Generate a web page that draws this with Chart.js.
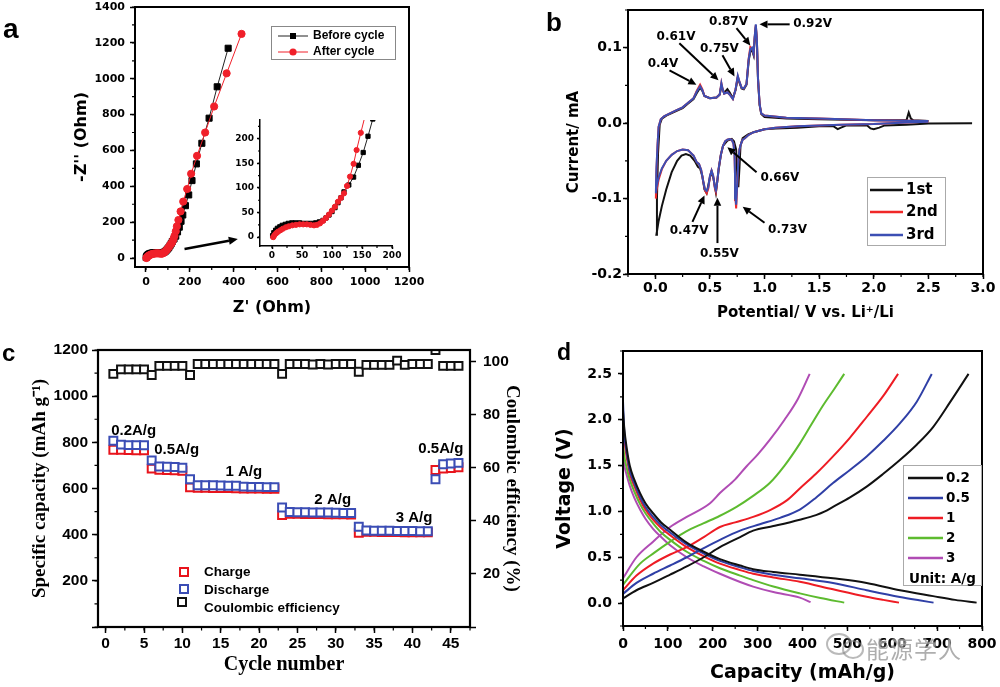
<!DOCTYPE html>
<html>
<head>
<meta charset="utf-8">
<script src="https://cdn.jsdelivr.net/npm/chart.js@4.4.1/dist/chart.umd.min.js"></script>
<style>
  html, body { margin: 0; background: #fff; }
  #page { position: relative; width: 1000px; height: 687px; overflow: hidden; background: #fff; }
  canvas { position: absolute; left: 0; top: 0; }
  .tag { position: absolute; font-family: "Liberation Sans", Arial, sans-serif; font-weight: bold; line-height: 1; color: #000; }
  .wm { position: absolute; left: 866px; top: 631px; font: 23px "Noto Sans CJK SC", sans-serif; color: rgba(120,120,120,0.6); text-shadow: 0 0 2px #fff; letter-spacing: 1px; }
  .wmi { position: absolute; border: 2px solid rgba(130,130,130,0.55); border-radius: 50%; }
</style>
</head>
<body>
<div id="page">
  <canvas id="ca" width="1000" height="687"></canvas>
  <canvas id="cai" width="1000" height="687"></canvas>
  <canvas id="cb" width="1000" height="687"></canvas>
  <canvas id="cc" width="1000" height="687"></canvas>
  <canvas id="cd" width="1000" height="687"></canvas>
  <div class="tag" style="left:3px;top:15px;font-size:28px">a</div>
  <div class="tag" style="left:546px;top:9px;font-size:26px">b</div>
  <div class="tag" style="left:2px;top:341px;font-size:24px">c</div>
  <div class="tag" style="left:557px;top:341px;font-size:23px">d</div>
  <div class="wmi" style="left:826px;top:633px;width:22px;height:18px"></div>
  <div class="wmi" style="left:842px;top:640px;width:18px;height:15px"></div>
  <div class="wm">能源学人</div>
</div>
<script>
// ---- a: impedance, before / after cycling ----
const beforeRe = [1, 3, 6, 9, 13, 17, 22, 27, 33, 39, 46, 53, 60, 67, 73, 79, 85, 90, 95, 100, 105, 110, 115, 120, 128, 136, 144, 152, 160, 168, 180, 195, 210, 230, 255, 288, 325, 375];
const beforeIm = [3, 9, 14, 18, 21, 24, 26, 28, 29, 29, 29, 28, 28, 28, 29, 31, 34, 39, 45, 52, 60, 70, 80, 92, 106, 122, 146, 172, 205, 240, 292, 352, 432, 525, 640, 780, 955, 1170];
const afterRe = [2, 4, 7, 10, 14, 18, 23, 28, 34, 40, 46, 52, 58, 64, 70, 75, 80, 85, 90, 95, 100, 105, 110, 115, 120, 125, 130, 136, 141, 148, 158, 170, 188, 206, 233, 270, 311, 368, 436];
const afterIm = [0, 4, 8, 11, 14, 17, 20, 22, 24, 25, 26, 26, 26, 25, 24, 25, 28, 33, 39, 46, 54, 62, 72, 80, 89, 104, 123, 149, 177, 212, 260, 315, 385, 470, 570, 700, 845, 1030, 1250];

// ---- b: cyclic voltammetry ----
const cv1Potential = [2.90, 2.50, 2.30, 2.10, 2.05, 2.00, 1.97, 1.94, 1.75, 1.70, 1.67, 1.63, 1.50, 1.30, 1.10, 1.00, 0.90, 0.85, 0.80, 0.78,
  0.77, 0.76, 0.75, 0.74, 0.72, 0.70, 0.66, 0.62, 0.60, 0.58, 0.555, 0.535, 0.515, 0.50, 0.47, 0.45, 0.43, 0.41, 0.39, 0.36,
  0.32, 0.28, 0.24, 0.20, 0.15, 0.10, 0.06, 0.03, 0.01,
  0.015, 0.025, 0.04, 0.06, 0.10, 0.19, 0.25, 0.30, 0.35, 0.38, 0.41, 0.43, 0.45, 0.50, 0.56, 0.59, 0.605, 0.615, 0.63, 0.66,
  0.68, 0.71, 0.735, 0.755, 0.77, 0.79, 0.81, 0.835, 0.855, 0.87, 0.885, 0.90, 0.91, 0.92, 0.93, 0.94, 0.955, 0.97, 1.00, 1.20,
  1.50, 2.00, 2.30, 2.32, 2.34, 2.36, 2.50];
const cv1Current = [0.000, -0.0005, -0.002, -0.003, -0.006, -0.008, -0.007, -0.003, -0.003, -0.006, -0.008, -0.004, -0.004, -0.006, -0.007, -0.008, -0.012, -0.015, -0.020, -0.030,
  -0.060, -0.085, -0.070, -0.035, -0.024, -0.021, -0.023, -0.030, -0.042, -0.062, -0.092, -0.075, -0.064, -0.072, -0.093, -0.088, -0.070, -0.060, -0.058, -0.050,
  -0.043, -0.041, -0.043, -0.050, -0.065, -0.088, -0.110, -0.130, -0.148,
  -0.100, -0.040, -0.002, 0.006, 0.010, 0.016, 0.020, 0.026, 0.032, 0.040, 0.047, 0.043, 0.036, 0.033, 0.034, 0.038, 0.050, 0.045, 0.040, 0.045,
  0.041, 0.033, 0.044, 0.060, 0.054, 0.046, 0.045, 0.051, 0.083, 0.095, 0.097, 0.090, 0.112, 0.128, 0.108, 0.058, 0.024, 0.012, 0.008, 0.006,
  0.005, 0.004, 0.004, 0.014, 0.006, 0.004, 0.003];
const cvPotential = [2.50, 2.30, 2.00, 1.70, 1.50, 1.30, 1.10, 1.00, 0.95, 0.90, 0.85, 0.82, 0.80, 0.785, 0.77, 0.76, 0.75, 0.74, 0.735, 0.73,
  0.725, 0.715, 0.70, 0.68, 0.66, 0.64, 0.62, 0.60, 0.58, 0.565, 0.555, 0.545, 0.53, 0.515, 0.50, 0.485, 0.47, 0.455, 0.44, 0.42,
  0.40, 0.38, 0.35, 0.30, 0.25, 0.20, 0.15, 0.10, 0.06, 0.03, 0.01, 0.005,
  0.01, 0.02, 0.03, 0.05, 0.08, 0.12, 0.19, 0.25, 0.30, 0.35, 0.38, 0.41, 0.43, 0.45, 0.50, 0.56, 0.59, 0.605, 0.615, 0.63,
  0.66, 0.68, 0.71, 0.735, 0.755, 0.77, 0.79, 0.81, 0.835, 0.855, 0.87, 0.885, 0.90, 0.91, 0.92, 0.93, 0.94, 0.955, 0.97, 1.00,
  1.20, 1.50, 2.00, 2.50];
const cv2Current = [0.002, 0.001, -0.001, -0.002, -0.003, -0.004, -0.006, -0.008, -0.010, -0.012, -0.016, -0.020, -0.022, -0.027, -0.035, -0.050, -0.082, -0.113, -0.102, -0.070,
  -0.040, -0.027, -0.022, -0.021, -0.022, -0.024, -0.030, -0.042, -0.060, -0.080, -0.091, -0.086, -0.070, -0.063, -0.071, -0.087, -0.093, -0.089, -0.078, -0.062,
  -0.054, -0.052, -0.043, -0.036, -0.035, -0.037, -0.042, -0.050, -0.061, -0.075, -0.090, -0.100,
  -0.065, -0.030, -0.005, 0.005, 0.009, 0.012, 0.017, 0.021, 0.027, 0.033, 0.043, 0.051, 0.045, 0.036, 0.033, 0.034, 0.038, 0.053, 0.046, 0.039,
  0.041, 0.038, 0.032, 0.045, 0.062, 0.055, 0.047, 0.046, 0.052, 0.086, 0.101, 0.099, 0.092, 0.114, 0.130, 0.110, 0.060, 0.025, 0.013, 0.010,
  0.007, 0.006, 0.004, 0.003];
const cv3Current = [0.002, 0.001, -0.001, -0.002, -0.003, -0.004, -0.006, -0.008, -0.010, -0.012, -0.016, -0.020, -0.022, -0.027, -0.035, -0.050, -0.080, -0.108, -0.100, -0.070,
  -0.040, -0.027, -0.022, -0.021, -0.022, -0.024, -0.030, -0.042, -0.060, -0.080, -0.089, -0.085, -0.070, -0.063, -0.070, -0.085, -0.090, -0.088, -0.078, -0.062,
  -0.054, -0.052, -0.043, -0.036, -0.035, -0.037, -0.042, -0.050, -0.060, -0.072, -0.085, -0.093,
  -0.060, -0.030, -0.005, 0.005, 0.009, 0.012, 0.017, 0.021, 0.027, 0.033, 0.042, 0.049, 0.044, 0.036, 0.033, 0.034, 0.038, 0.053, 0.046, 0.039,
  0.041, 0.038, 0.032, 0.045, 0.063, 0.055, 0.047, 0.046, 0.052, 0.085, 0.098, 0.100, 0.092, 0.115, 0.131, 0.110, 0.060, 0.025, 0.013, 0.010,
  0.007, 0.006, 0.004, 0.003];

// ---- c: rate capability ----
const cycles = [1, 2, 3, 4, 5, 6, 7, 8, 9, 10, 11, 12, 13, 14, 15, 16, 17, 18, 19, 20, 21, 22, 23,
  24, 25, 26, 27, 28, 29, 30, 31, 32, 33, 34, 35, 36, 37, 38, 39, 40, 41, 42, 43, 44, 45, 46];
const chargeCap = [768, 768, 767, 766, 765, 686, 681, 680, 679, 677, 605, 603, 603, 602, 602, 602, 601, 600, 600, 600, 599, 599, 485,
  490, 490, 489, 489, 489, 488, 488, 488, 487, 408, 412, 412, 411, 411, 411, 410, 410, 410, 410, 680, 686, 689, 692];
const dischargeCap = [807, 790, 788, 788, 787, 722, 695, 694, 693, 690, 640, 614, 614, 614, 613, 612, 612, 608, 607, 607, 606, 606, 518,
  498, 497, 497, 496, 496, 496, 495, 494, 494, 434, 418, 417, 417, 417, 416, 416, 416, 415, 415, 640, 705, 708, 711];
const coulombEff = [95.5, 97.2, 97.2, 97.2, 97.2, 95.1, 98.5, 98.5, 98.5, 98.5, 95.1, 99.2, 99.2, 99.2, 99.2, 99.2, 99.2, 99.2, 99.2, 99.2, 99.2, 99.2, 95.5,
  99.2, 99.2, 99.2, 99.0, 99.2, 99.0, 99.2, 99.2, 99.2, 96.3, 98.9, 98.9, 98.9, 98.9, 100.5, 98.9, 99.2, 99.2, 99.2, 104.5, 98.5, 98.5, 98.5];
const rateLabels = ['0.2A/g', '0.5A/g', '1 A/g', '2 A/g', '3 A/g', '0.5A/g'];

// ---- d: charge / discharge profiles ----
const rates = ['0.2', '0.5', '1', '2', '3'];
const dis02Cap = [0, 3, 8, 15, 25, 38, 50, 67, 85, 105, 142, 180, 216, 261, 290, 335, 394, 468, 543, 617, 691, 740, 788];
const dis02V = [2.1, 1.9, 1.7, 1.5, 1.35, 1.2, 1.09, 0.98, 0.88, 0.8, 0.66, 0.56, 0.48, 0.41, 0.37, 0.34, 0.31, 0.27, 0.22, 0.14, 0.076, 0.035, 0.005];
const chg02Cap = [0, 30, 67, 105, 142, 180, 216, 261, 290, 335, 394, 430, 450, 468, 505, 543, 580, 617, 655, 691, 730, 770];
const chg02V = [0.05, 0.14, 0.22, 0.31, 0.4, 0.5, 0.61, 0.72, 0.79, 0.84, 0.91, 0.96, 1.0, 1.05, 1.15, 1.27, 1.41, 1.56, 1.73, 1.92, 2.2, 2.5];
const dis05Cap = [0, 3, 8, 15, 25, 38, 50, 67, 85, 105, 142, 180, 216, 261, 290, 335, 394, 468, 543, 617, 660, 692];
const dis05V = [2.2, 1.85, 1.65, 1.45, 1.31, 1.16, 1.05, 0.94, 0.85, 0.77, 0.64, 0.54, 0.46, 0.39, 0.35, 0.31, 0.27, 0.22, 0.14, 0.066, 0.03, 0.005];
const chg05Cap = [0, 30, 67, 105, 142, 180, 216, 261, 305, 350, 394, 430, 468, 505, 543, 580, 617, 655, 688];
const chg05V = [0.1, 0.22, 0.32, 0.41, 0.5, 0.6, 0.69, 0.79, 0.86, 0.93, 1.02, 1.15, 1.31, 1.45, 1.6, 1.77, 1.96, 2.2, 2.5];
const dis1Cap = [0, 3, 8, 15, 25, 38, 50, 67, 85, 105, 142, 180, 216, 261, 290, 335, 394, 468, 543, 580, 615];
const dis1V = [2.0, 1.8, 1.6, 1.42, 1.28, 1.13, 1.02, 0.91, 0.82, 0.74, 0.61, 0.51, 0.43, 0.36, 0.32, 0.28, 0.233, 0.15, 0.069, 0.035, 0.005];
const chg1Cap = [0, 30, 67, 105, 142, 180, 216, 250, 290, 330, 365, 394, 430, 468, 505, 543, 580, 613];
const chg1V = [0.14, 0.3, 0.43, 0.53, 0.61, 0.72, 0.83, 0.88, 0.94, 1.02, 1.12, 1.25, 1.41, 1.6, 1.8, 2.03, 2.26, 2.5];
const dis2Cap = [0, 3, 8, 15, 25, 38, 50, 67, 85, 105, 142, 180, 216, 261, 290, 335, 394, 440, 493];
const dis2V = [1.75, 1.6, 1.48, 1.35, 1.22, 1.08, 0.98, 0.87, 0.77, 0.69, 0.56, 0.46, 0.38, 0.3, 0.25, 0.18, 0.106, 0.055, 0.005];
const chg2Cap = [0, 38, 70, 105, 140, 179, 215, 253, 290, 327, 360, 394, 420, 445, 470, 493];
const chg2V = [0.2, 0.43, 0.55, 0.67, 0.78, 0.87, 0.95, 1.05, 1.17, 1.31, 1.5, 1.74, 1.95, 2.15, 2.33, 2.5];
const dis3Cap = [0, 3, 8, 15, 25, 38, 50, 67, 85, 105, 142, 180, 216, 261, 290, 335, 394, 418];
const dis3V = [1.62, 1.5, 1.4, 1.28, 1.15, 1.02, 0.92, 0.81, 0.72, 0.63, 0.5, 0.4, 0.32, 0.23, 0.18, 0.12, 0.06, 0.01];
const chg3Cap = [0, 30, 67, 105, 142, 194, 216, 250, 275, 300, 327, 360, 390, 416];
const chg3V = [0.27, 0.5, 0.67, 0.83, 0.94, 1.09, 1.2, 1.35, 1.49, 1.62, 1.78, 2.0, 2.23, 2.5];

// ---------------------------------------------------------------
const DV = '"DejaVu Sans", Verdana, sans-serif';
const AR = '"Liberation Sans", Arial, sans-serif';
const TM = '"Liberation Serif", "Times New Roman", serif';

const pts = (xs, ys) => xs.map((x, i) => ({x, y: ys[i]}));

// ticks only on whole multiples of the step, whatever min/max are
function multiples(step) {
  return axis => {
    const t = [];
    for (let k = Math.ceil(axis.min / step - 1e-6); k * step <= axis.max + 1e-9; k++) {
      t.push({value: +(k * step).toFixed(6)});
    }
    axis.ticks = t;
  };
}
function fixSize(size) {
  return axis => {
    if (axis.isHorizontal()) axis.height = size; else axis.width = size;
    axis.paddingLeft = axis.paddingRight = axis.paddingTop = axis.paddingBottom = 0;
  };
}
function linAxis(o) {
  return {
    type: 'linear', position: o.pos, min: o.min, max: o.max,
    afterBuildTicks: multiples(o.step),
    afterFit: fixSize(o.size),
    border: {display: !!o.border, color: '#000', width: 1.5},
    grid: {drawOnChartArea: false, drawTicks: true, tickLength: o.tick, tickColor: '#000', tickWidth: 1.5},
    ticks: {stepSize: o.step, includeBounds: false, padding: o.pad, autoSkip: false, maxRotation: 0, color: '#000',
      font: {family: o.family, size: o.fs, weight: 'bold'}, callback: o.fmt},
    title: o.title ? {display: true, text: o.title, color: '#000', padding: 0,
      font: {family: o.tfamily || o.family, size: o.tfs, weight: 'bold'}} : {display: false}
  };
}
// chart area in page pixels -> layout padding
function area(l, t, r, b, yW, xH, rW) {
  return {left: l - yW, top: t, right: 1000 - r - (rW || 0), bottom: 687 - b - xH};
}
function drawFrame(chart, lw) {
  const {ctx, chartArea: a} = chart;
  ctx.save();
  ctx.strokeStyle = '#000';
  ctx.lineWidth = lw;
  ctx.strokeRect(a.left, a.top, a.right - a.left, a.bottom - a.top);
  ctx.restore();
}
function drawMinor(chart, steps, len) {
  const {ctx, chartArea: a} = chart;
  ctx.save();
  ctx.strokeStyle = '#000';
  ctx.lineWidth = 1.2;
  ctx.beginPath();
  for (const id in steps) {
    const s = chart.scales[id], m = steps[id];
    for (let k = Math.ceil(s.min / m - 1e-6); k * m <= s.max + 1e-9; k++) {
      const p = s.getPixelForValue(k * m);
      if (s.position === 'bottom') { ctx.moveTo(p, a.bottom); ctx.lineTo(p, a.bottom + len); }
      else if (s.position === 'left') { ctx.moveTo(a.left, p); ctx.lineTo(a.left - len, p); }
      else { ctx.moveTo(a.right, p); ctx.lineTo(a.right + len, p); }
    }
  }
  ctx.stroke();
  ctx.restore();
}
function arrow(ctx, x1, y1, x2, y2, lw, hl, hw) {
  const ang = Math.atan2(y2 - y1, x2 - x1);
  const bx = x2 - hl * Math.cos(ang), by = y2 - hl * Math.sin(ang);
  ctx.lineWidth = lw;
  ctx.beginPath(); ctx.moveTo(x1, y1); ctx.lineTo(bx, by); ctx.stroke();
  ctx.beginPath(); ctx.moveTo(x2, y2);
  ctx.lineTo(bx + hw * Math.sin(ang), by - hw * Math.cos(ang));
  ctx.lineTo(bx - hw * Math.sin(ang), by + hw * Math.cos(ang));
  ctx.closePath(); ctx.fill();
}
function label(ctx, s, x, y, font, align) {
  ctx.font = font;
  ctx.textAlign = align || 'center';
  ctx.textBaseline = 'middle';
  ctx.fillStyle = '#000';
  ctx.fillText(s, x, y);
}
function legendBox(ctx, x, y, w, h, col) {
  ctx.fillStyle = '#fff';
  ctx.fillRect(x, y, w, h);
  ctx.strokeStyle = col;
  ctx.lineWidth = 1;
  ctx.strokeRect(x + 0.5, y + 0.5, w, h);
}
function make(id, padding, scales, datasets, deco) {
  return new Chart(document.getElementById(id), {
    type: 'scatter',
    data: {datasets},
    options: {
      responsive: false, animation: false, events: [], devicePixelRatio: 1,
      layout: {padding},
      plugins: {legend: {display: false}, tooltip: {enabled: false}},
      scales
    },
    plugins: [{id: 'deco', afterDraw: deco}]
  });
}

const RED_A = '#f0202a';
// ---------------- a ----------------
make('ca', area(135, 7, 409, 267, 135 - (82 - 9.6), 308 + 9.6 - 267),
  {
    x: linAxis({pos: 'bottom', min: -50, max: 1200, step: 200, size: 308 + 9.6 - 267, tick: 5, pad: 4, family: DV, fs: 11,
      fmt: v => String(v), title: "Z' (Ohm)", tfs: 16}),
    y: linAxis({pos: 'left', min: -50, max: 1400, step: 200, size: 135 - (82 - 9.6), tick: 5, pad: 5, family: DV, fs: 11,
      fmt: v => String(v), title: "-Z'' (Ohm)", tfs: 16})
  },
  [
    {data: pts(afterRe, afterIm), showLine: true, borderColor: RED_A, borderWidth: 1, pointStyle: 'circle',
      pointRadius: 3.6, pointBackgroundColor: RED_A, pointBorderColor: RED_A, order: 0},
    {data: pts(beforeRe, beforeIm), showLine: true, borderColor: '#222', borderWidth: 1, pointStyle: 'rect',
      pointRadius: 4.3, pointBackgroundColor: '#000', pointBorderColor: '#000', order: 1}
  ],
  chart => {
    const ctx = chart.ctx, xs = chart.scales.x, ys = chart.scales.y;
    drawFrame(chart, 2);
    drawMinor(chart, {x: 100, y: 100}, 3);
    ctx.save();
    ctx.strokeStyle = ctx.fillStyle = '#000';
    arrow(ctx, xs.getPixelForValue(176), ys.getPixelForValue(50), xs.getPixelForValue(419), ys.getPixelForValue(106), 2.5, 9, 4);
    legendBox(ctx, 271, 26, 124, 33, '#888');
    ctx.lineWidth = 1;
    ctx.strokeStyle = '#222';
    ctx.beginPath(); ctx.moveTo(278, 36); ctx.lineTo(308, 36); ctx.stroke();
    ctx.fillStyle = '#000';
    ctx.fillRect(290, 33, 6, 6);
    ctx.strokeStyle = RED_A;
    ctx.beginPath(); ctx.moveTo(278, 52); ctx.lineTo(308, 52); ctx.stroke();
    ctx.fillStyle = RED_A;
    ctx.beginPath(); ctx.arc(293, 52, 3.6, 0, Math.PI * 2); ctx.fill();
    label(ctx, 'Before cycle', 313, 36, 'bold 12px ' + AR, 'left');
    label(ctx, 'After cycle', 313, 52, 'bold 12px ' + AR, 'left');
    ctx.restore();
  });

// inset of a
make('cai', area(260, 120, 392, 246, 40, 16),
  {
    x: linAxis({pos: 'bottom', min: -20, max: 200, step: 50, size: 16, tick: 3, pad: 1, family: DV, fs: 9,
      fmt: v => String(v), border: true}),
    y: linAxis({pos: 'left', min: -18, max: 238, step: 50, size: 40, tick: 3, pad: 3, family: DV, fs: 9,
      fmt: v => String(v), border: true})
  },
  [
    {data: pts(afterRe, afterIm), showLine: true, borderColor: RED_A, borderWidth: 1, pointStyle: 'circle',
      pointRadius: 2.6, pointBackgroundColor: RED_A, pointBorderColor: RED_A, order: 0},
    {data: pts(beforeRe, beforeIm), showLine: true, borderColor: '#222', borderWidth: 1, pointStyle: 'rect',
      pointRadius: 3, pointBackgroundColor: '#000', pointBorderColor: '#000', order: 1}
  ],
  chart => drawMinor(chart, {x: 25, y: 25}, 2));

// ---------------- b ----------------
const BLK = '#111', RED_B = '#f02828', BLU_B = '#3c4fb4';
const cvNotes = [
  {t: '0.4V', tx: 0.07, ty: 0.079, x1: 0.13, y1: 0.070, x2: 0.376, y2: 0.051},
  {t: '0.61V', tx: 0.19, ty: 0.114, x1: 0.22, y1: 0.106, x2: 0.578, y2: 0.057},
  {t: '0.75V', tx: 0.587, ty: 0.098, x1: 0.615, y1: 0.090, x2: 0.725, y2: 0.062},
  {t: '0.87V', tx: 0.67, ty: 0.134, x1: 0.743, y1: 0.126, x2: 0.87, y2: 0.103},
  {t: '0.92V', tx: 1.44, ty: 0.131, x1: 1.23, y1: 0.131, x2: 0.954, y2: 0.131},
  {t: '0.66V', tx: 1.14, ty: -0.073, x1: 0.927, y1: -0.065, x2: 0.66, y2: -0.032},
  {t: '0.47V', tx: 0.31, ty: -0.143, x1: 0.34, y1: -0.131, x2: 0.45, y2: -0.096},
  {t: '0.55V', tx: 0.587, ty: -0.173, x1: 0.569, y1: -0.159, x2: 0.569, y2: -0.099},
  {t: '0.73V', tx: 1.21, ty: -0.142, x1: 1.0, y1: -0.132, x2: 0.8, y2: -0.111}
];
make('cb', area(628, 10, 983, 274, 628 - (574 - 9), 313 + 9 - 274),
  {
    x: linAxis({pos: 'bottom', min: -0.25, max: 3.0, step: 0.5, size: 313 + 9 - 274, tick: 5, pad: 1, family: DV, fs: 14,
      fmt: v => v.toFixed(1), title: 'Potential/ V vs. Li\u207A/Li', tfs: 15}),
    y: linAxis({pos: 'left', min: -0.2, max: 0.15, step: 0.1, size: 628 - (574 - 9), tick: 5, pad: 1, family: DV, fs: 14,
      fmt: v => v.toFixed(1), title: 'Current/ mA', tfs: 15})
  },
  [
    {data: pts(cvPotential, cv3Current), showLine: true, borderColor: BLU_B, borderWidth: 2, pointRadius: 0, order: 0},
    {data: pts(cvPotential, cv2Current), showLine: true, borderColor: RED_B, borderWidth: 2, pointRadius: 0, order: 1},
    {data: pts(cv1Potential, cv1Current), showLine: true, borderColor: BLK, borderWidth: 2, pointRadius: 0, order: 2}
  ],
  chart => {
    const ctx = chart.ctx, xs = chart.scales.x, ys = chart.scales.y;
    drawFrame(chart, 2);
    drawMinor(chart, {x: 0.25, y: 0.05}, 3);
    ctx.save();
    ctx.strokeStyle = ctx.fillStyle = '#000';
    cvNotes.forEach(n => {
      arrow(ctx, xs.getPixelForValue(n.x1), ys.getPixelForValue(n.y1), xs.getPixelForValue(n.x2), ys.getPixelForValue(n.y2), 2, 8, 3.8);
      label(ctx, n.t, xs.getPixelForValue(n.tx), ys.getPixelForValue(n.ty), 'bold 12px ' + DV);
    });
    legendBox(ctx, 867, 177, 78, 68, '#aaa');
    [['1st', BLK, 190], ['2nd', RED_B, 212], ['3rd', BLU_B, 235]].forEach(([t, c, y]) => {
      ctx.strokeStyle = c; ctx.lineWidth = 2.5;
      ctx.beginPath(); ctx.moveTo(870, y); ctx.lineTo(903, y); ctx.stroke();
      label(ctx, t, 906, y, 'bold 15px ' + DV, 'left');
    });
    ctx.restore();
  });

// ---------------- c ----------------
const RED_C = '#e8141c', BLU_C = '#3b4db5';
const ratePos = [[3.65, 848], [9.26, 766], [18.0, 671], [29.6, 550], [40.2, 472], [43.7, 770]];
make('cc', area(98, 350, 470, 627, 98 - (40 - 11.4), 665 + 12 - 627, 512 + 11.4 - 470),
  {
    x: linAxis({pos: 'bottom', min: -1, max: 47.5, step: 5, size: 665 + 12 - 627, tick: 6, pad: 1, family: AR, fs: 15.5,
      fmt: v => String(v), title: 'Cycle number', tfamily: TM, tfs: 20}),
    y: linAxis({pos: 'left', min: 0, max: 1200, step: 200, size: 98 - (40 - 11.4), tick: 6, pad: 4, family: AR, fs: 15.5,
      fmt: v => (v === 0 ? '' : String(v)), title: 'Specific capacity (mAh g\u207B\u00B9)', tfamily: TM, tfs: 19}),
    y2: linAxis({pos: 'right', min: 0, max: 104.5, step: 20, size: 512 + 11.4 - 470, tick: 6, pad: 7, family: AR, fs: 15.5,
      fmt: v => (v === 0 ? '' : String(v)), title: 'Coulombic efficiency (%)', tfamily: TM, tfs: 19})
  },
  [
    {data: pts(cycles, dischargeCap), pointStyle: 'rect', pointRadius: 5.6, pointBorderWidth: 2,
      pointBorderColor: BLU_C, pointBackgroundColor: '#fff', order: 0},
    {data: pts(cycles, chargeCap), pointStyle: 'rect', pointRadius: 5.6, pointBorderWidth: 2,
      pointBorderColor: RED_C, pointBackgroundColor: '#fff', order: 1},
    {data: pts(cycles, coulombEff), yAxisID: 'y2', pointStyle: 'rect', pointRadius: 5.6, pointBorderWidth: 2,
      pointBorderColor: '#111', pointBackgroundColor: '#fff', order: 2}
  ],
  chart => {
    const ctx = chart.ctx, xs = chart.scales.x, ys = chart.scales.y;
    drawFrame(chart, 2.2);
    drawMinor(chart, {x: 2.5, y: 100}, 3.5);
    ctx.save();
    rateLabels.forEach((t, i) => {
      label(ctx, t, xs.getPixelForValue(ratePos[i][0]), ys.getPixelForValue(ratePos[i][1]), 'bold 15px ' + AR);
    });
    ctx.lineWidth = 2;
    [[RED_C, 184, 572], [BLU_C, 184, 589], ['#111', 182, 602]].forEach(([c, x, y]) => {
      ctx.strokeStyle = c;
      ctx.strokeRect(x - 4, y - 4, 8, 8);
    });
    label(ctx, 'Charge', 204, 572, 'bold 13.5px ' + AR, 'left');
    label(ctx, 'Discharge', 204, 590, 'bold 13.5px ' + AR, 'left');
    label(ctx, 'Coulombic efficiency', 204, 608, 'bold 13.5px ' + AR, 'left');
    ctx.restore();
  });

// ---------------- d ----------------
const dColors = ['#111', '#2f3fa6', '#ee1c24', '#5dbb2f', '#b04cb4'];
const dCurves = [
  [dis02Cap, dis02V, chg02Cap, chg02V],
  [dis05Cap, dis05V, chg05Cap, chg05V],
  [dis1Cap, dis1V, chg1Cap, chg1V],
  [dis2Cap, dis2V, chg2Cap, chg2V],
  [dis3Cap, dis3V, chg3Cap, chg3V]
];
const dSets = [];
dCurves.forEach((c, i) => {
  dSets.push({data: pts(c[0], c[1]), showLine: true, borderColor: dColors[i], borderWidth: 2, pointRadius: 0, cubicInterpolationMode: 'monotone'});
  dSets.push({data: pts(c[2], c[3]), showLine: true, borderColor: dColors[i], borderWidth: 2, pointRadius: 0, cubicInterpolationMode: 'monotone'});
});
make('cd', area(623, 351, 982, 626, 623 - (565 - 11.4), 673 + 11.4 - 626),
  {
    x: linAxis({pos: 'bottom', min: 0, max: 800, step: 100, size: 673 + 11.4 - 626, tick: 5, pad: 5, family: DV, fs: 14,
      fmt: v => String(v), title: 'Capacity (mAh/g)', tfs: 19}),
    y: linAxis({pos: 'left', min: -0.25, max: 2.75, step: 0.5, size: 623 - (565 - 11.4), tick: 5, pad: 6, family: DV, fs: 14,
      fmt: v => v.toFixed(1), title: 'Voltage (V)', tfs: 19})
  },
  dSets,
  chart => {
    const ctx = chart.ctx;
    drawFrame(chart, 2);
    drawMinor(chart, {x: 50, y: 0.25}, 3);
    ctx.save();
    legendBox(ctx, 903, 465, 78, 120, '#aaa');
    rates.forEach((r, i) => {
      const y = 478 + i * 20;
      ctx.strokeStyle = dColors[i]; ctx.lineWidth = 2.5;
      ctx.beginPath(); ctx.moveTo(908, y); ctx.lineTo(943, y); ctx.stroke();
      label(ctx, r, 946, y, 'bold 13.5px ' + DV, 'left');
    });
    label(ctx, 'Unit: A/g', 909, 579, 'bold 13.5px ' + DV, 'left');
    ctx.restore();
  });
</script>
</body>
</html>
